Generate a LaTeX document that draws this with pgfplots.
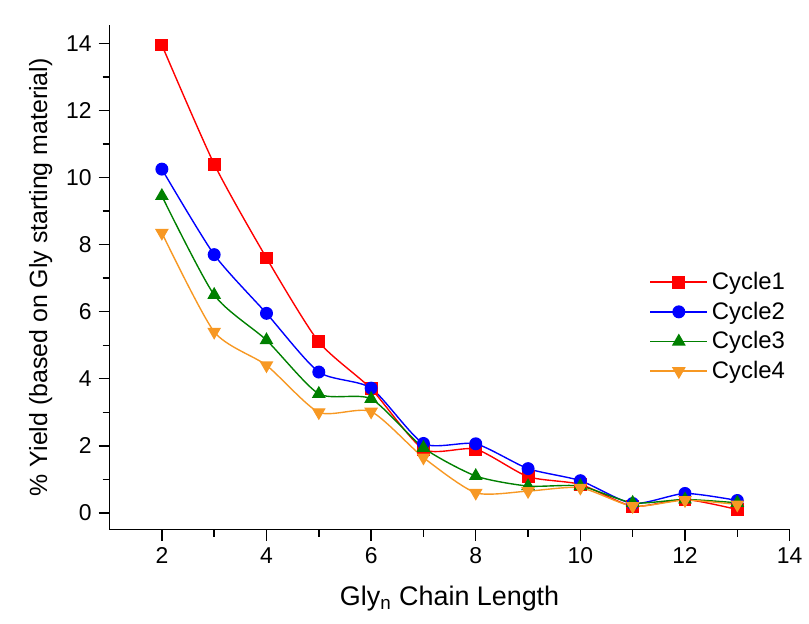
\documentclass[border=0pt]{standalone}
\usepackage{pgfplots}
\pgfplotsset{compat=1.18}
\usepackage{fontspec}
\setmainfont{Liberation Sans}
\definecolor{corange}{RGB}{247,152,35}
\definecolor{cgreen}{RGB}{0,128,0}
\begin{document}
\begin{tikzpicture}
\begin{axis}[
  scale only axis,
  width=341.4pt, height=253.4pt,
  xmin=1, xmax=14, ymin=-0.5, ymax=14.55,
  axis lines=left,
  axis line style={-, line width=0.8pt},
  xtick={2,4,...,14}, ytick={0,2,...,14},
  minor x tick num=1, minor y tick num=1,
  tick align=outside,
  major tick length=5.5pt, minor tick length=3.5pt,
  tick style={black, line width=0.7pt},
  /pgf/number format/assume math mode=true,
  ticklabel style={font=\fontsize{11.5}{13}\selectfont},
  xlabel={Gly\textsubscript{n} Chain Length},
  ylabel={\% Yield (based on Gly starting material)},
  xlabel style={font=\fontsize{13.5}{15}\selectfont, yshift=-4pt},
  ylabel style={font=\fontsize{12.5}{14}\selectfont, yshift=0pt},
  legend style={draw=none, fill=none, at={(0.785,0.527)}, anchor=north west, font=\fontsize{12}{14}\selectfont, row sep=0.7pt},
  legend cell align=left,
  legend image code/.code={\draw[mark repeat=2,mark phase=2] plot coordinates {(0cm,0cm) (0.5cm,0cm) (1cm,0cm)};},
  every axis plot/.append style={smooth, tension=0.4, line width=0.7pt, mark size=2.9pt},
  clip=false,
]
\addplot[red, mark=square*, mark options={solid, fill=red}] coordinates {
(2,13.95) (3,10.4) (4,7.6) (5,5.1) (6,3.7) (7,1.9) (8,1.9) (9,1.08) (10,0.85) (11,0.2) (12,0.4) (13,0.1)};
\addlegendentry{Cycle1}
\addplot[blue, mark=*, mark options={solid, fill=blue}] coordinates {
(2,10.25) (3,7.7) (4,5.95) (5,4.2) (6,3.72) (7,2.07) (8,2.06) (9,1.32) (10,0.96) (11,0.28) (12,0.58) (13,0.37)};
\addlegendentry{Cycle2}
\addplot[cgreen, mark=triangle*, mark options={solid, fill=cgreen}, mark size=3.3pt] coordinates {
(2,9.45) (3,6.5) (4,5.15) (5,3.55) (6,3.4) (7,1.94) (8,1.1) (9,0.8) (10,0.8) (11,0.3) (12,0.4) (13,0.3)};
\addlegendentry{Cycle3}
\addplot[corange, mark=triangle*, mark options={solid, fill=corange, rotate=180}, mark size=3.3pt] coordinates {
(2,8.35) (3,5.4) (4,4.4) (5,3.0) (6,3.02) (7,1.65) (8,0.6) (9,0.65) (10,0.75) (11,0.2) (12,0.38) (13,0.25)};
\addlegendentry{Cycle4}
\path (rel axis cs:0,1) ++(-55pt,12.5pt);
\path (rel axis cs:1,0) ++(8.2pt,-47.2pt);
\end{axis}
\end{tikzpicture}
\end{document}
